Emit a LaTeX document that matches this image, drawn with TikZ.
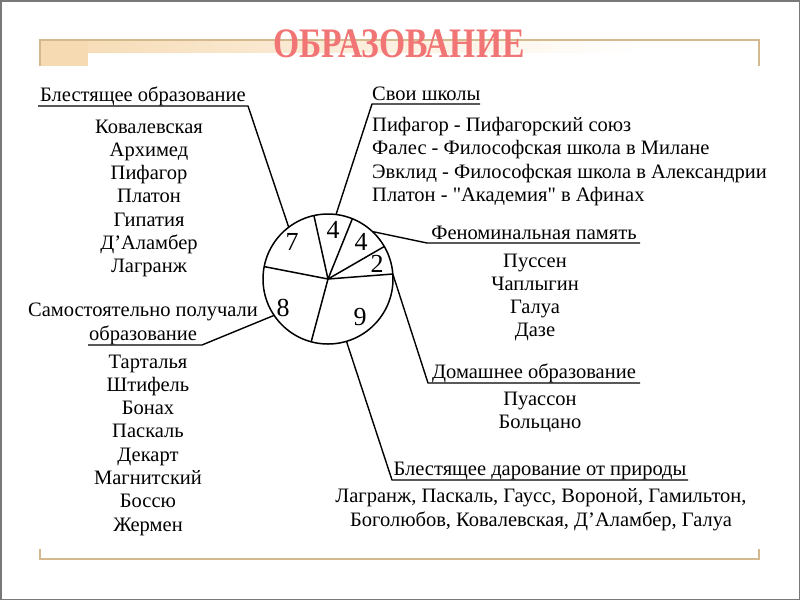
\documentclass[tikz,border=0pt]{standalone}
\usepackage{fontspec}
\setmainfont{Liberation Serif}[Ligatures=TeXOff]
\newfontfamily\titlefont[FakeStretch=0.8]{Liberation Serif}
\usetikzlibrary{calc}
\definecolor{tanline}{RGB}{212,184,142}
\definecolor{tanfill}{RGB}{246,218,178}
\definecolor{titlecol}{RGB}{241,117,117}
\definecolor{framecol}{RGB}{120,120,120}
\begin{document}
\begin{tikzpicture}[x=1pt,y=-1pt,
  txt/.style={font=\fontsize{20.5}{23.3}\selectfont, inner sep=0pt, anchor=base},
  txtw/.style={txt, anchor=base west},
  num/.style={font=\fontsize{26}{26}\selectfont, inner sep=0pt},
  lead/.style={line width=1.4pt, black, line join=round},
  pie/.style={line width=1.5pt, black},
  deco/.style={line width=1.6pt, tanline}]
\useasboundingbox (0,0) rectangle (800,600);
\draw[framecol, line width=1.5pt] (0.75,0.75) rectangle (799.25,599.25);

% decorative bars
\shade[left color=tanfill, right color=white] (40,40) rectangle (640,52);
\fill[tanfill] (40,40) rectangle (88,66);
\draw[deco] (40,66) -- (40,40) -- (759,40) -- (759,66);
\draw[deco] (40,549) -- (40,559) -- (759,559) -- (759,549);

% title
\node[font=\titlefont\bfseries\fontsize{42}{42}\selectfont, text=titlecol, inner sep=0pt] (title) at (399,44) {ОБРАЗОВАНИЕ};

% pie chart
\coordinate (C) at (328,279);
\draw[pie] (C) circle[radius=65];
\foreach \a [count=\i] in {-102.5,-68,-30,-4.4,105,-169}
  \draw[pie] (C) -- ([shift={(\a:65)}]C) coordinate (s\i);
\node[num] (n7) at (292,242) {7};
\node[num] (n4a) at (333,230) {4};
\node[num] (n4b) at (361,242) {4};
\node[num] (n2) at (377,264) {2};
\node[num] (n8) at (283,308) {8};
\node[num] (n9) at (360,317) {9};

% leader points on circle
\coordinate (p1) at ([shift={(-127.2:65)}]C);
\coordinate (p2) at ([shift={(-82.9:65)}]C);
\coordinate (p3) at ([shift={(-46.9:65)}]C);
\coordinate (p4) at ([shift={(-4.4:65)}]C);
\coordinate (p5) at ([shift={(73.5:65)}]C);
\coordinate (p6) at ([shift={(146:65)}]C);

% 1: Блестящее образование
\node[txtw] (h1) at (40,101) {Блестящее образование};
\coordinate (u1l) at (38,106);
\coordinate (u1r) at (248,106);
\draw[lead] (u1l) -- (u1r) -- (p1);
\foreach \t [count=\i] in {Ковалевская,Архимед,Пифагор,Платон,Гипатия,Д’Аламбер,Лагранж}
  \node[txt, name=a\i] at (149,{133+23.3*(\i-1)}) {\t};

% 2: Свои школы
\node[txtw] (h2) at (372,100) {Свои школы};
\coordinate (u2l) at (372,104);
\coordinate (u2r) at (480,104);
\draw[lead] (u2r) -- (u2l) -- (p2);
\node[txtw] (b1) at (372,131) {Пифагор - Пифагорский союз};
\node[txtw] (b2) at (372,154.5) {Фалес - Философская школа в Милане};
\node[txtw] (b3) at (372,178) {Эвклид - Философская школа в Александрии};
\node[txtw] (b4) at (372,201.5) {Платон - "Академия" в Афинах};

% 3: Феноминальная память
\node[txt] (h3) at (534,239) {Феноминальная память};
\coordinate (u3l) at (427,243);
\coordinate (u3r) at (640,243);
\draw[lead] (p3) -- (u3l) -- (u3r);
\foreach \t [count=\i] in {Пуссен,Чаплыгин,Галуа,Дазе}
  \node[txt, name=c\i] at (535,{267+23.3*(\i-1)}) {\t};

% 4: Домашнее образование
\node[txt] (h4) at (534,378) {Домашнее образование};
\coordinate (u4l) at (428,383);
\coordinate (u4r) at (640,383);
\draw[lead] (p4) -- (u4l) -- (u4r);
\node[txt] (d1) at (540,405) {Пуассон};
\node[txt] (d2) at (540,428.3) {Больцано};

% 5: Блестящее дарование от природы
\node[txt] (h5) at (540,475) {Блестящее дарование от природы};
\coordinate (u5l) at (392,480);
\coordinate (u5r) at (688,480);
\draw[lead] (p5) -- (u5l) -- (u5r);
\node[txt] (e1) at (541,502) {Лагранж, Паскаль, Гаусс, Вороной, Гамильтон,};
\node[txt] (e2) at (541,526) {Боголюбов, Ковалевская, Д’Аламбер, Галуа};

% 6: Самостоятельно получали образование
\node[txt] (h6a) at (143,316) {Самостоятельно получали};
\node[txt] (h6b) at (143,340) {образование};
\coordinate (u6l) at (88,345);
\coordinate (u6r) at (202,345);
\draw[lead] (u6l) -- (u6r) -- (p6);
\foreach \t [count=\i] in {Тарталья,Штифель,Бонах,Паскаль,Декарт,Магнитский,Боссю,Жермен}
  \node[txt, name=f\i] at (148,{368+23.3*(\i-1)}) {\t};
\end{tikzpicture}
\end{document}
